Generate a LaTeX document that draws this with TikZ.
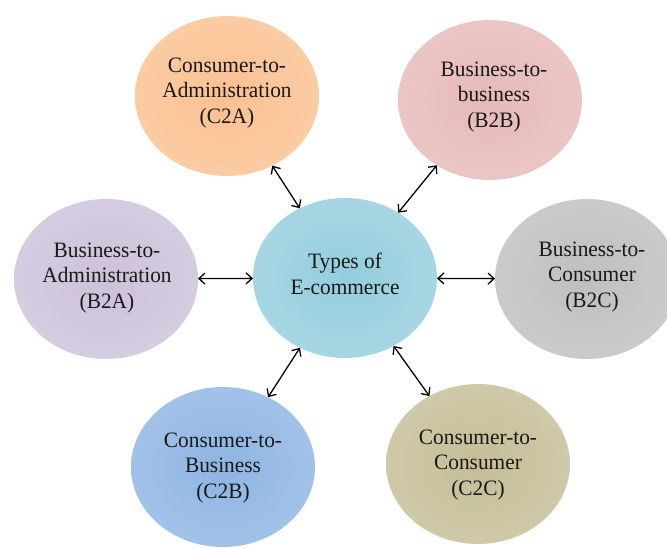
\documentclass[tikz,border=0pt]{standalone}
\usepackage{fontspec}
\setmainfont{Liberation Serif}[FakeStretch=0.97]
\usepackage{xcolor}
\usetikzlibrary{arrows.meta, shapes.geometric}
\definecolor{cOrange}{HTML}{FAC090}
\definecolor{cPink}{HTML}{E6B9B8}
\definecolor{cLilac}{HTML}{CCC1DA}
\definecolor{cAqua}{HTML}{93CDDD}
\definecolor{cGray}{HTML}{BFBFBF}
\definecolor{cBlue}{HTML}{8EB4E3}
\definecolor{cTan}{HTML}{C4BD97}

\begin{document}
\begin{tikzpicture}[x=1pt, y=-1pt,
    kind/.style={ellipse, inner color=#1, outer color=#1!82!white,
      minimum width=184pt, minimum height=160pt, inner sep=0pt, outer sep=0pt},
    ktext/.style={align=center, font=\fontsize{22}{25.8}\selectfont, text=black!90},
    link/.style={<->, >={Straight Barb[length=6pt, width=11pt]}, line width=1.3pt}]
          \useasboundingbox (0,0) rectangle (667,548);
          % the six kinds round the centre
          \node[kind=cAqua] (types) at (345,278) {};
          \node[kind=cOrange] (c2a) at (227,96) {};
          \node[kind=cPink] (b2b) at (490,100) {};
          \node[kind=cLilac] (b2a) at (106,279) {};
          \node[kind=cGray] (b2c) at (587,279) {};
          \node[kind=cBlue] (c2b) at (223,467) {};
          \node[kind=cTan] (c2c) at (478,464) {};
          % texts
          \node[ktext] (types-t) at (345,274) {Types of\\E-commerce};
          \node[ktext] (c2a-t) at (227,93) {Consumer-to-\\Administration\\(C2A)};
          \node[ktext] (b2b-t) at (494,97) {Business-to-\\business\\(B2B)};
          \node[ktext] (b2a-t) at (107,278) {Business-to-\\Administration\\(B2A)};
          \node[ktext] (b2c-t) at (592,277) {Business-to-\\Consumer\\(B2C)};
          \node[ktext] (c2b-t) at (223,468) {Consumer-to-\\Business\\(C2B)};
          \node[ktext] (c2c-t) at (478,465) {Consumer-to-\\Consumer\\(C2C)};
          % links
          \draw[link] (types) -- (c2a);
          \draw[link] (types) -- (b2b);
          \draw[link] (types) -- (b2a);
          \draw[link] (types) -- (b2c);
          \draw[link] (types) -- (c2b);
          \draw[link] (types) -- (c2c);
        \end{tikzpicture}
\end{document}
